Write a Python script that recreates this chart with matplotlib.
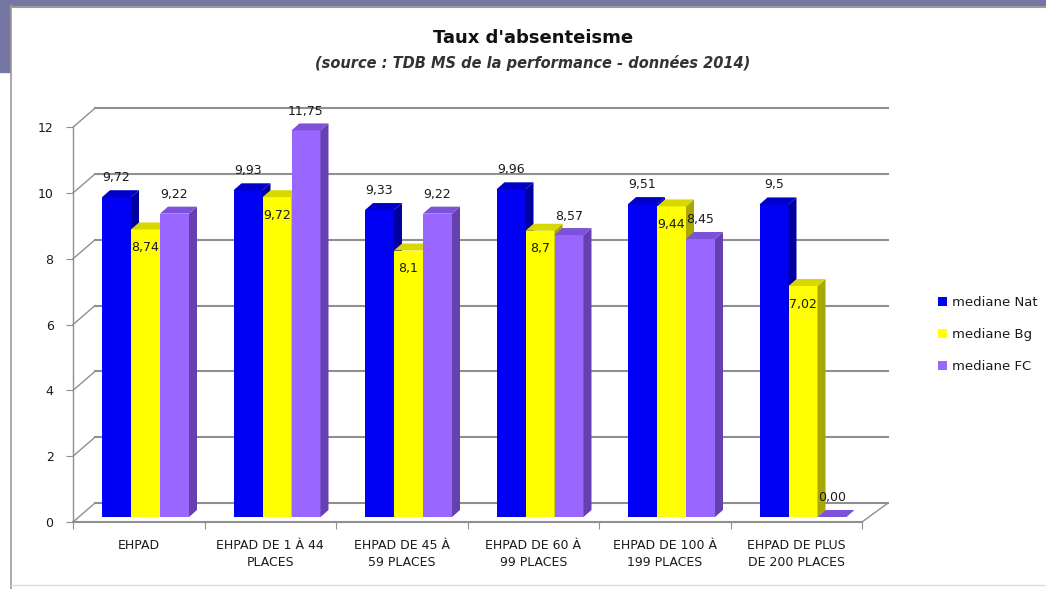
import matplotlib.pyplot as plt
from matplotlib.patches import Polygon, Rectangle, Patch
from matplotlib.lines import Line2D

# data
categories = ['EHPAD', 'EHPAD DE 1 À 44\nPLACES', 'EHPAD DE 45 À\n59 PLACES',
              'EHPAD DE 60 À\n99 PLACES', 'EHPAD DE 100 À\n199 PLACES',
              'EHPAD DE PLUS\nDE 200 PLACES']
series_names = ['mediane Nat', 'mediane Bg', 'mediane FC']
nat = [9.72, 9.93, 9.33, 9.96, 9.51, 9.5]
bg = [8.74, 9.72, 8.1, 8.7, 9.44, 7.02]
fc = [9.22, 11.75, 9.22, 8.57, 8.45, 0.0]
nat_labels = ['9,72', '9,93', '9,33', '9,96', '9,51', '9,5']
bg_labels = ['8,74', '9,72', '8,1', '8,7', '9,44', '7,02']
fc_labels = ['9,22', '11,75', '9,22', '8,57', '8,45', '0,00']
y_ticks = [0, 2, 4, 6, 8, 10, 12]

values = [nat, bg, fc]
labels = [nat_labels, bg_labels, fc_labels]
front = ['#0000f5', '#ffff00', '#9966ff']
side = ['#0000a0', '#a8a800', '#6440b0']
top = ['#0000c8', '#d8d800', '#7c52d8']
label_off = [20, -18, 19]   # px, label centre relative to bar top

W, H = 1046, 589
fig = plt.figure(figsize=(W / 100, H / 100), dpi=100)
fig.patch.set_facecolor('white')

# slide background bits and chart frame
fig.patches.append(Rectangle((0, 1 - 5 / H), 1, 5 / H, transform=fig.transFigure,
                             color='#7676a2', zorder=0))
fig.patches.append(Rectangle((0, 1 - 72 / H), 10 / W, 72 / H, transform=fig.transFigure,
                             color='#7676a2', zorder=0))
fig.lines.append(Line2D([11 / W, 11 / W], [0, 1 - 5 / H], transform=fig.transFigure,
                        color='#9a9a9a', lw=1.2))
fig.lines.append(Line2D([11 / W, 1], [1 - 7 / H, 1 - 7 / H], transform=fig.transFigure,
                        color='#9a9a9a', lw=1.5))
fig.lines.append(Line2D([11 / W, 1], [1 - 585 / H, 1 - 585 / H], transform=fig.transFigure,
                        color='#dddddd', lw=1))

PX = 1 / 131.5   # category units per pixel
PY = 1 / 32.9    # value units per pixel
ytop = 13
ax = fig.add_axes([73 / W, (H - 522) / H, 789 / W, ytop / PY / H])
ax.set_xlim(-0.5, len(categories) - 0.5)
ax.set_ylim(0, ytop)
for s in ax.spines.values():
    s.set_visible(False)

# back wall, left wall and floor
WX, WY = 22 * PX, 19 * PY
x0, x1 = -0.5, len(categories) - 0.5
grid_c = '#8f8f8f'
for v in y_ticks:
    ax.plot([x0 + WX, x1 + WX + 4 * PX], [v + WY, v + WY], color=grid_c, lw=1.5, zorder=1,
            clip_on=False)
    ax.plot([x0, x0 + WX], [v, v + WY], color=grid_c, lw=1.0, zorder=1, clip_on=False)
ax.plot([x0, x0], [0, y_ticks[-1]], color=grid_c, lw=1.0, zorder=1, clip_on=False)
ax.plot([x0, x1], [0, 0], color=grid_c, lw=1.5, zorder=1, clip_on=False)
ax.plot([x1, x1 + WX + 4 * PX], [0, WY], color=grid_c, lw=1.0, zorder=1, clip_on=False)

# 3D-looking bars
BX, BY = 8 * PX, 7 * PY
bw = 29 * PX
base = 5 * PY
for i, vals in enumerate(values):
    for c, v in enumerate(vals):
        xl = c - 0.5 + bw + i * bw
        xr = xl + bw
        t = base + v
        z = 3 + c * 3 + i
        if v > 0:
            ax.add_patch(Rectangle((xl, base), bw, v, facecolor=front[i], edgecolor='none',
                                   zorder=z))
        ax.add_patch(Polygon([(xr, base), (xr + BX, base + BY), (xr + BX, t + BY), (xr, t)],
                             closed=True, facecolor=side[i], edgecolor='none', zorder=z))
        ax.add_patch(Polygon([(xl, t), (xl + BX, t + BY), (xr + BX, t + BY), (xr, t)],
                             closed=True, facecolor=top[i], edgecolor='none', zorder=z))
        ax.text((xl + xr) / 2, t + label_off[i] * PY, labels[i][c], ha='center', va='center',
                fontsize=9, color='#1a1a1a', zorder=40, clip_on=False)

# axes ticks
ax.set_yticks(y_ticks)
ax.set_yticklabels([str(v) for v in y_ticks])
ax.tick_params(axis='y', length=5, width=0.8, color=grid_c, pad=9, labelsize=9,
               labelcolor='#1a1a1a')
ax.set_xticks(range(len(categories)))
ax.set_xticklabels(categories, fontsize=9, color='#1a1a1a', linespacing=1.45)
ax.set_xticks([c - 0.5 for c in range(len(categories) + 1)], minor=True)
ax.tick_params(axis='x', which='major', length=0, pad=12)
ax.tick_params(axis='x', which='minor', length=5, width=0.8, color=grid_c)

# titles
fig.text(533 / W, 1 - 38 / H, "Taux d'absenteisme", ha='center', va='center', fontsize=13,
         fontweight='bold', family=['Liberation Sans Narrow', 'DejaVu Sans'], color='#111111')
fig.text(533 / W, 1 - 63 / H, '(source : TDB MS de la performance - données 2014)',
         ha='center', va='center', fontsize=10.5, fontstyle='italic', fontweight='bold',
         family=['Liberation Sans Narrow', 'DejaVu Sans'], color='#333333')

# legend
handles = [Patch(facecolor=front[i], edgecolor='none') for i in range(3)]
fig.legend(handles, series_names, loc='upper left', bbox_to_anchor=(926 / W, 1 - 284 / H),
           frameon=False, fontsize=9.5, handlelength=0.7, handleheight=0.7, handletextpad=0.4,
           labelspacing=1.45, labelcolor='#1a1a1a')

fig.savefig('out.png', dpi=100)
